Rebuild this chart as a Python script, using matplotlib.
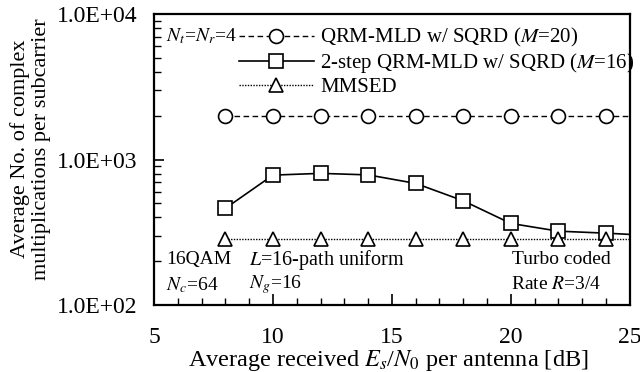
#!/usr/bin/env python

import numpy as np
import matplotlib
matplotlib.use("Agg")
import matplotlib.pyplot as plt
from matplotlib.ticker import MultipleLocator, LogLocator, FuncFormatter, NullFormatter

plt.rcParams['font.family'] = ['Liberation Serif', 'DejaVu Serif']
plt.rcParams['mathtext.fontset'] = 'stix'

# Es/N0 [dB]
snr = [8, 10, 12, 14, 16, 18, 20, 22, 24, 26]
qrm_m20 = [2000, 2000, 2000, 2000, 2000, 2000, 2000, 2000, 2000, 2000]
qrm2_m16 = [462, 782, 804, 785, 686, 521, 364, 322, 312, 300]
mmsed = [285, 285, 285, 285, 285, 285, 285, 285, 285, 285]

label_m20 = 'QRM-MLD w/ SQRD ($M$=20)'
label_m16 = '2-step QRM-MLD w/ SQRD ($M$=16)'
label_mmsed = 'MMSED'


def fmt_e(v, pos):
    e = int(round(np.log10(v)))
    return '1.0E+%02d' % e


def main():
    fig = plt.figure(figsize=(6.4, 3.72), dpi=100)
    ax = fig.add_axes([0.2406, 0.180, 0.7434, 0.782])

    ax.plot(snr, qrm_m20, color='black', ls=(0, (4, 2.5)), lw=1.0,
            marker='o', ms=10, mfc='white', mec='black', mew=1.2, label=label_m20)
    ax.plot(snr, qrm2_m16, color='black', ls='-', lw=1.2,
            marker='s', ms=10.5, mfc='white', mec='black', mew=1.2, label=label_m16)
    ax.plot(snr, mmsed, color='black', ls=(0, (1, 1)), lw=1.0,
            marker='^', ms=10, mfc='white', mec='black', mew=1.2, label=label_mmsed)

    ax.set_yscale('log')
    ax.set_xlim(5, 25)
    ax.set_ylim(100, 10000)

    ax.xaxis.set_major_locator(MultipleLocator(5))
    ax.xaxis.set_minor_locator(MultipleLocator(1))
    ax.yaxis.set_major_locator(LogLocator(base=10))
    ax.yaxis.set_minor_locator(LogLocator(base=10, subs=np.arange(2, 10)))
    ax.yaxis.set_major_formatter(FuncFormatter(fmt_e))
    ax.yaxis.set_minor_formatter(NullFormatter())

    ax.tick_params(axis='x', which='both', direction='in', top=False, labelsize=17, pad=16)
    ax.tick_params(axis='x', which='major', length=8, width=1.2)
    ax.tick_params(axis='x', which='minor', length=5, width=1.0)
    ax.tick_params(axis='y', which='both', direction='in', right=False, labelsize=17, pad=12)
    ax.tick_params(axis='y', which='major', length=7, width=1.2)
    ax.tick_params(axis='y', which='minor', length=5, width=1.0)

    for s in ax.spines.values():
        s.set_linewidth(1.6)

    fig.text(0.607, 0.031, 'Average received $E_s$/$N_0$ per antenna [dB]',
             ha='center', va='center', fontsize=17.5)
    fig.text(0.048, 0.60, 'Average No. of complex\nmultiplications per subcarrier',
             rotation=90, ha='center', va='center', fontsize=16, linespacing=1.1)

    ax.legend(loc='upper left', bbox_to_anchor=(0.178, 0.958), frameon=False,
              fontsize=15, handlelength=3.6, handletextpad=0.3, labelspacing=0.1,
              borderpad=0, borderaxespad=0)

    ax.text(0.025, 0.925, '$N_t$=$N_r$=4', transform=ax.transAxes, fontsize=14, va='center')
    ax.text(0.025, 0.155, '16QAM', transform=ax.transAxes, fontsize=14, va='center')
    ax.text(0.025, 0.07, '$N_c$=64', transform=ax.transAxes, fontsize=14, va='center')
    ax.text(0.2, 0.155, '$L$=16-path uniform', transform=ax.transAxes, fontsize=14.5, va='center')
    ax.text(0.2, 0.07, '$N_g$=16', transform=ax.transAxes, fontsize=14, va='center')
    ax.text(0.96, 0.155, 'Turbo coded', transform=ax.transAxes, fontsize=14, va='center', ha='right')
    ax.text(0.75, 0.07, 'Rate $R$=3/4', transform=ax.transAxes, fontsize=14, va='center')

    fig.savefig('out.png', dpi=100)


if __name__ == "__main__":
    main()
